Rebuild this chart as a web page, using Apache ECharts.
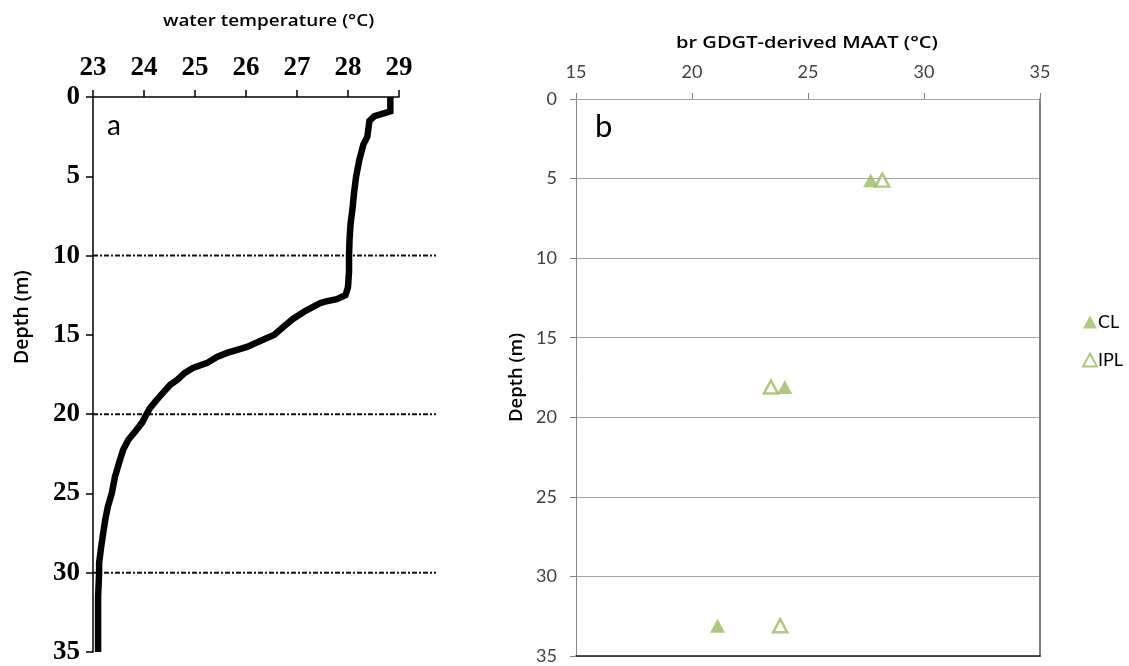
<!DOCTYPE html>
<html>
<head>
<meta charset="utf-8">
<script src="https://cdn.jsdelivr.net/npm/echarts@6/dist/echarts.min.js"></script>
<style>
html,body{margin:0;padding:0;background:#fff;}
#c{width:1129px;height:666px;}
</style>
</head>
<body>
<div id="c"></div>
<script>
// Panel a: water temperature profile (depth m, temperature °C)
const profileDepth = [0.0, 0.9, 1.2, 1.5, 2.5, 3.0, 4.0, 5.0, 6.0, 7.0, 8.0, 9.0, 10.0, 11.0, 12.0, 12.5, 12.75, 12.9, 13.0, 13.5, 14.0, 14.5, 15.0, 15.2, 15.76, 16.14, 16.39, 16.77, 17.09, 17.4, 17.84, 18.16, 18.66, 19.1, 19.6, 20.0, 20.55, 21.12, 21.63, 22.26, 23.08, 23.96, 24.97, 25.85, 26.67, 27.49, 28.37, 29.38, 30.0, 31.5, 33.6, 35.0];
const profileTemp  = [28.83, 28.83, 28.52, 28.42, 28.38, 28.30, 28.22, 28.16, 28.12, 28.09, 28.05, 28.03, 28.02, 28.02, 28.00, 27.95, 27.78, 27.55, 27.45, 27.16, 26.92, 26.73, 26.55, 26.41, 26.02, 25.63, 25.43, 25.24, 24.96, 24.80, 24.65, 24.51, 24.37, 24.25, 24.12, 24.05, 23.96, 23.82, 23.69, 23.59, 23.51, 23.43, 23.37, 23.29, 23.24, 23.20, 23.16, 23.12, 23.12, 23.10, 23.10, 23.10];
const refDepths = [10, 20, 30];

// Panel b: br GDGT-derived MAAT (°C) vs depth (m)
const sampleDepths = [5.1, 18.1, 33.1];
const clMAAT  = [27.7, 24.0, 21.1];
const iplMAAT = [28.2, 23.4, 23.8];

const tempTicks = [23, 24, 25, 26, 27, 28, 29];
const depthTicks = [0, 5, 10, 15, 20, 25, 30, 35];
const maatTicks = [15, 20, 25, 30, 35];

const GREEN = '#9BBB59';
const chart = echarts.init(document.getElementById('c'), null, {renderer: 'canvas'});

const serifLbl = {fontFamily: 'Liberation Serif', fontWeight: 'bold', fontSize: 27, color: '#000'};
const sansLbl = {fontFamily: 'Lato', fontSize: 18, color: '#404040'};

const option = {
  animation: false,
  backgroundColor: '#fff',
  grid: [
    {left: 93, top: 97, width: 306, height: 555},
    {left: 93, top: 97, width: 343, height: 555},
    {left: 576, top: 99, width: 464, height: 557}
  ],
  xAxis: [
    {gridIndex: 0, type: 'value', position: 'top', min: tempTicks[0], max: tempTicks[tempTicks.length-1], interval: 1,
     axisLine: {show: true, onZero: false, lineStyle: {color: '#000', width: 1.5}},
     axisTick: {show: true, length: 7, lineStyle: {color: '#000', width: 1.5}},
     axisLabel: Object.assign({margin: 15}, serifLbl), splitLine: {show: false}},
    {gridIndex: 1, type: 'value', min: 0, max: 1, show: false},
    {gridIndex: 2, type: 'value', position: 'top', min: maatTicks[0], max: maatTicks[maatTicks.length-1], interval: 5,
     axisLine: {show: true, onZero: false, lineStyle: {color: '#A6A6A6', width: 1}},
     axisTick: {show: true, length: 6, lineStyle: {color: '#868686'}},
     axisLabel: Object.assign({margin: 18}, sansLbl), splitLine: {show: false}},
    {gridIndex: 2, type: 'value', position: 'bottom', min: 15, max: 35,
     axisLine: {show: true, onZero: false, lineStyle: {color: '#1a1a1a', width: 1.5}},
     axisTick: {show: false}, axisLabel: {show: false}, splitLine: {show: false}}
  ],
  yAxis: [
    {gridIndex: 0, type: 'value', inverse: true, min: depthTicks[0], max: depthTicks[depthTicks.length-1], interval: 5,
     axisLine: {show: true, onZero: false, lineStyle: {color: '#000', width: 1.5}},
     axisTick: {show: true, length: 7, lineStyle: {color: '#000', width: 1.5}},
     axisLabel: Object.assign({margin: 13}, serifLbl), splitLine: {show: false}},
    {gridIndex: 1, type: 'value', inverse: true, min: 0, max: 35, show: false},
    {gridIndex: 2, type: 'value', inverse: true, min: 0, max: 35, interval: 5, position: 'left',
     axisLine: {show: true, onZero: false, lineStyle: {color: '#868686', width: 1}},
     axisTick: {show: true, length: 6, lineStyle: {color: '#868686'}},
     axisLabel: Object.assign({margin: 19}, sansLbl),
     splitLine: {show: true, lineStyle: {color: '#A6A6A6', width: 1.2}},
     name: 'Depth (m)', nameLocation: 'middle', nameGap: 50, nameRotate: 90,
     nameTextStyle: {fontFamily: 'Open Sans', fontWeight: 600, fontSize: 18.5, color: '#000'}},
    {gridIndex: 2, type: 'value', inverse: true, min: 0, max: 35, position: 'right',
     axisLine: {show: true, onZero: false, lineStyle: {color: '#7f7f7f', width: 2}},
     axisTick: {show: false}, axisLabel: {show: false}, splitLine: {show: false}}
  ],
  legend: {
    orient: 'vertical', left: 1077, top: 308, itemGap: 20, itemWidth: 14, itemHeight: 13,
    textStyle: {fontFamily: 'Lato', fontSize: 18, color: '#000', padding: [0, 0, 0, -4]},
    data: ['CL', 'IPL']
  },
  graphic: [
    {type: 'text', x: 163, y: 13, scaleX: 1.11, style: {text: 'water temperature (°C)', font: '600 17px "Open Sans"', fill: '#000'}},
    {type: 'text', x: 676, y: 35, scaleX: 1.18, style: {text: 'br GDGT-derived MAAT (°C)', font: '600 17px "Open Sans"', fill: '#000'}},
    {type: 'text', x: 12, y: 364, rotation: Math.PI / 2, style: {text: 'Depth (m)', font: '600 19.5px "Open Sans"', fill: '#000'}},
    {type: 'text', left: 107, top: 112, style: {text: 'a', font: '28px Lato', fill: '#000'}},
    {type: 'text', left: 595, top: 111, style: {text: 'b', font: '31px Lato', fill: '#000'}}
  ],
  series: [
    ...refDepths.map(d => ({
      type: 'line', xAxisIndex: 1, yAxisIndex: 1, data: [[0, d], [1, d]], symbol: 'none', silent: true, z: 1,
      lineStyle: {color: '#111', width: 2, type: [5, 2, 2, 2]}
    })),
    {type: 'line', name: 'profile', xAxisIndex: 0, yAxisIndex: 0, symbol: 'none', z: 5,
     data: profileDepth.map((d, i) => [profileTemp[i], d]),
     lineStyle: {color: '#000', width: 6.5, cap: 'butt', join: 'miter'}},
    {type: 'scatter', name: 'CL', xAxisIndex: 2, yAxisIndex: 2, symbol: 'triangle', symbolSize: [15, 14], z: 6,
     data: clMAAT.map((v, i) => [v, sampleDepths[i]]),
     itemStyle: {color: GREEN}},
    {type: 'scatter', name: 'IPL', xAxisIndex: 2, yAxisIndex: 2, symbol: 'triangle', symbolSize: [14, 13], z: 6,
     data: iplMAAT.map((v, i) => [v, sampleDepths[i]]),
     itemStyle: {color: '#fff', borderColor: GREEN, borderWidth: 2.5}}
  ]
};
chart.setOption(option);
</script>
</body>
</html>
